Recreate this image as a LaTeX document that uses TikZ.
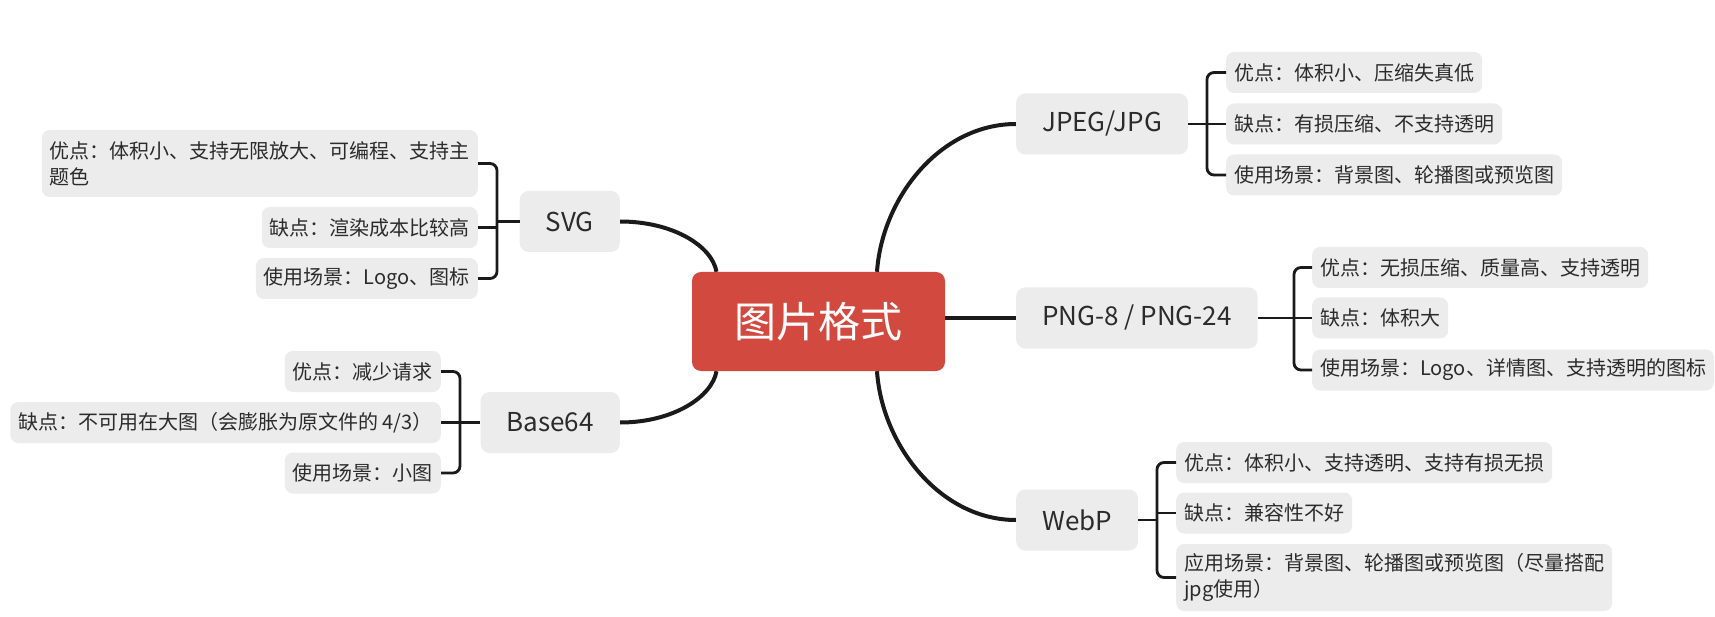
\documentclass[tikz,border=0pt]{standalone}
\usepackage{fontspec}
\setmainfont{Noto Sans CJK SC}
\usetikzlibrary{backgrounds}
\definecolor{boxgray}{HTML}{ECECEC}
\definecolor{txtc}{HTML}{2B2B2B}
\definecolor{linec}{HTML}{1A1A1A}
\definecolor{redc}{HTML}{D2493F}
\tikzset{
  leaf/.style={fill=boxgray, rounded corners=8pt, inner xsep=8pt, inner ysep=0pt,
    minimum height=41pt, font=\fontsize{20}{26}\selectfont, text=txtc, align=left},
  topic/.style={fill=boxgray, rounded corners=9pt, inner xsep=26pt, inner ysep=0pt,
    minimum height=61pt, font=\fontsize{26}{30}\selectfont, text=txtc},
  central/.style={fill=redc, rounded corners=9pt, minimum width=253pt, minimum height=99pt,
    font=\fontsize{42}{46}\selectfont, text=white},
  br/.style={line width=2.8pt, draw=linec, rounded corners=7pt},
  conn/.style={line width=4pt, draw=linec}
}
\begin{document}
\begin{tikzpicture}[x=1pt,y=-1pt]
\useasboundingbox (0,0) rectangle (1715,617);

\node[central] (c) at (818.5,321.5) {图片格式};

% SVG
\node[topic, anchor=east] (svg) at (620,221.5) {SVG};
\node[leaf, anchor=east, minimum height=67pt] (s1) at (478,163.5) {优点：体积小、支持无限放大、可编程、支持主\\题色};
\node[leaf, anchor=east] (s2) at (478,227.5) {缺点：渲染成本比较高};
\node[leaf, anchor=east] (s3) at (478,278.5) {使用场景：Logo、图标};
\coordinate (sb) at (497,221.5);

% Base64
\node[topic, anchor=east] (b64) at (620,422.5) {Base64};
\node[leaf, anchor=east] (b1) at (441,371.5) {优点：减少请求};
\node[leaf, anchor=east] (b2) at (441,422.5) {缺点：不可用在大图（会膨胀为原文件的 4/3）};
\node[leaf, anchor=east] (b3) at (441,473) {使用场景：小图};
\coordinate (bb) at (460,422.5);

% JPEG
\node[topic, anchor=west] (jpg) at (1016,124) {JPEG/JPG};
\node[leaf, anchor=west] (j1) at (1226,72.5) {优点：体积小、压缩失真低};
\node[leaf, anchor=west] (j2) at (1226,124) {缺点：有损压缩、不支持透明};
\node[leaf, anchor=west] (j3) at (1226,175) {使用场景：背景图、轮播图或预览图};
\coordinate (jb) at (1207,124);

% PNG
\node[topic, anchor=west] (png) at (1016,318) {PNG-8 / PNG-24};
\node[leaf, anchor=west] (p1) at (1312,267.5) {优点：无损压缩、质量高、支持透明};
\node[leaf, anchor=west] (p2) at (1312,318) {缺点：体积大};
\node[leaf, anchor=west] (p3) at (1312,370) {使用场景：Logo、详情图、支持透明的图标};
\coordinate (pb) at (1294,318);

% WebP
\node[topic, anchor=west] (webp) at (1016,520) {WebP};
\node[leaf, anchor=west] (w1) at (1176,462.5) {优点：体积小、支持透明、支持有损无损};
\node[leaf, anchor=west] (w2) at (1176,513) {缺点：兼容性不好};
\node[leaf, anchor=west, minimum height=67pt] (w3) at (1176,577.5) {应用场景：背景图、轮播图或预览图（尽量搭配\\jpg使用）};
\coordinate (wb) at (1157,520);

\begin{pgfonlayer}{background}
\fill[white] (0,0) rectangle (1715,617);
% central connectors
\draw[conn] (svg.east) .. controls (673,221.5) and (712,246) .. ([xshift=-102pt]c.north);
\draw[conn] (b64.east) .. controls (673,422.5) and (712,397) .. ([xshift=-102pt]c.south);
\draw[conn] ([xshift=58.5pt]c.north) .. controls (882,198) and (940,124) .. (jpg.west);
\draw[conn] (png.west) -- (png.west -| c.east);
\draw[conn] ([xshift=58.5pt]c.south) .. controls (882,445) and (940,520) .. (webp.west);
\end{pgfonlayer}

% brackets
\draw[br] (s1.east) -- (s1.east -| sb) -- (s3.east -| sb) -- (s3.east);
\draw[br] (svg.west) -- (sb);
\draw[br] (s2.east) -- (s2.east -| sb);

\draw[br] (b1.east) -- (b1.east -| bb) -- (b3.east -| bb) -- (b3.east);
\draw[br] (b64.west) -- (b2.east);

\draw[br] (j1.west) -- (j1.west -| jb) -- (j3.west -| jb) -- (j3.west);
\draw[br] (jpg.east) -- (j2.west);

\draw[br] (p1.west) -- (p1.west -| pb) -- (p3.west -| pb) -- (p3.west);
\draw[br] (png.east) -- (p2.west);

\draw[br] (w1.west) -- (w1.west -| wb) -- (w3.west -| wb) -- (w3.west);
\draw[br] (webp.east) -- (wb);
\draw[br] (w2.west) -- (w2.west -| wb);
\end{tikzpicture}
\end{document}
